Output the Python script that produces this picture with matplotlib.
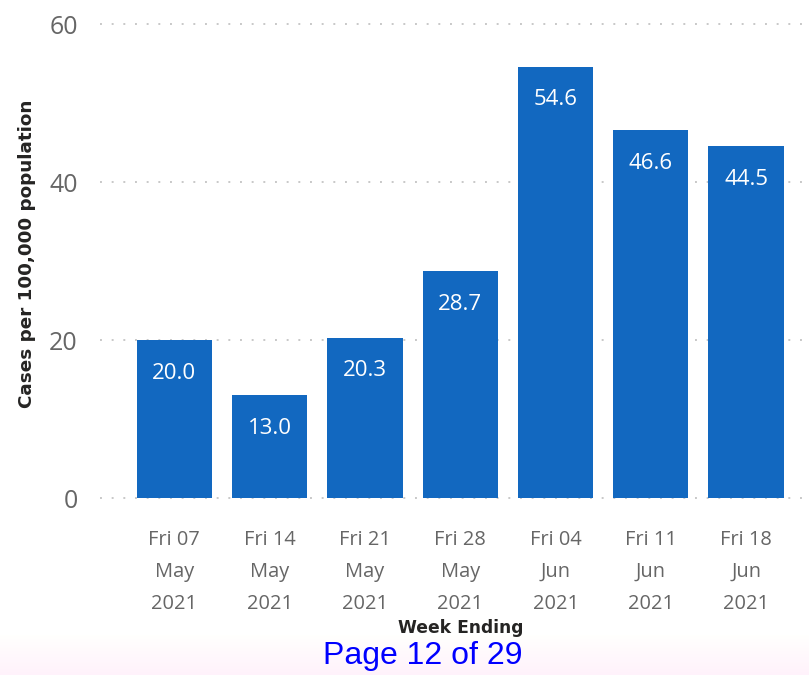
import numpy as np
import matplotlib.pyplot as plt

# weekly case rate
weeks = ["Fri 07\nMay\n2021", "Fri 14\nMay\n2021", "Fri 21\nMay\n2021", "Fri 28\nMay\n2021",
         "Fri 04\nJun\n2021", "Fri 11\nJun\n2021", "Fri 18\nJun\n2021"]
rates = [20.0, 13.0, 20.3, 28.7, 54.6, 46.6, 44.5]
yticks = [0, 20, 40, 60]

bar_color = "#1268C0"
tick_color = "#666666"

fig = plt.figure(figsize=(8.09, 6.75), dpi=100)
ax = fig.add_axes([100 / 809, 177 / 675, 709 / 809, 474 / 675])

x = np.arange(len(rates))
ax.bar(x, rates, width=0.79, color=bar_color, zorder=3)

for xi, v in zip(x, rates):
    ax.text(xi, v - 4.2, f"{v:.1f}", ha="center", va="center", color="white",
            fontsize=16, family="Open Sans", zorder=4)

ax.set_xlim(-0.78, 6.66)
ax.set_ylim(0, 60)
ax.set_yticks(yticks)
ax.set_yticklabels([str(t) for t in yticks], family="Open Sans", fontsize=18, color=tick_color)
ax.set_xticks(x)
ax.set_xticklabels(weeks, family="Open Sans", fontsize=14.4, color=tick_color, linespacing=1.8)
ax.tick_params(axis="both", length=0)
ax.tick_params(axis="y", pad=16)
ax.tick_params(axis="x", pad=23)

for t in yticks:
    ax.axhline(t, color="#C8C8C8", lw=1.4, ls=(0, (1, 5)), zorder=1, clip_on=False)

for s in ax.spines.values():
    s.set_visible(False)

fig.text(27 / 809, 1 - 254 / 675, "Cases per 100,000 population", rotation=90,
         ha="center", va="center", fontsize=13.2, fontweight="bold", family="DejaVu Sans",
         color="#252423")
fig.text(461 / 809, 1 - 628 / 675, "Week Ending", ha="center", va="center",
         fontsize=12.3, fontweight="bold", family="DejaVu Sans", color="#252423")

# faint tinted strip along the page footer
grad = np.linspace(0, 1, 40).reshape(-1, 1)
tint = np.dstack([np.ones_like(grad), 1 - 0.05 * (1 - grad), np.ones_like(grad) * 0.995 - 0.01 * (1 - grad)])
bg = fig.add_axes([0, 0, 1, 40 / 675], zorder=-1)
bg.imshow(tint, aspect="auto", extent=[0, 1, 0, 1], origin="lower")
bg.axis("off")
fig.text(423 / 809, 1 - 656 / 675, "Page 12 of 29", ha="center", va="center",
         fontsize=23, family="Liberation Sans", color="#0000FF")

fig.savefig("out.png", dpi=100)
